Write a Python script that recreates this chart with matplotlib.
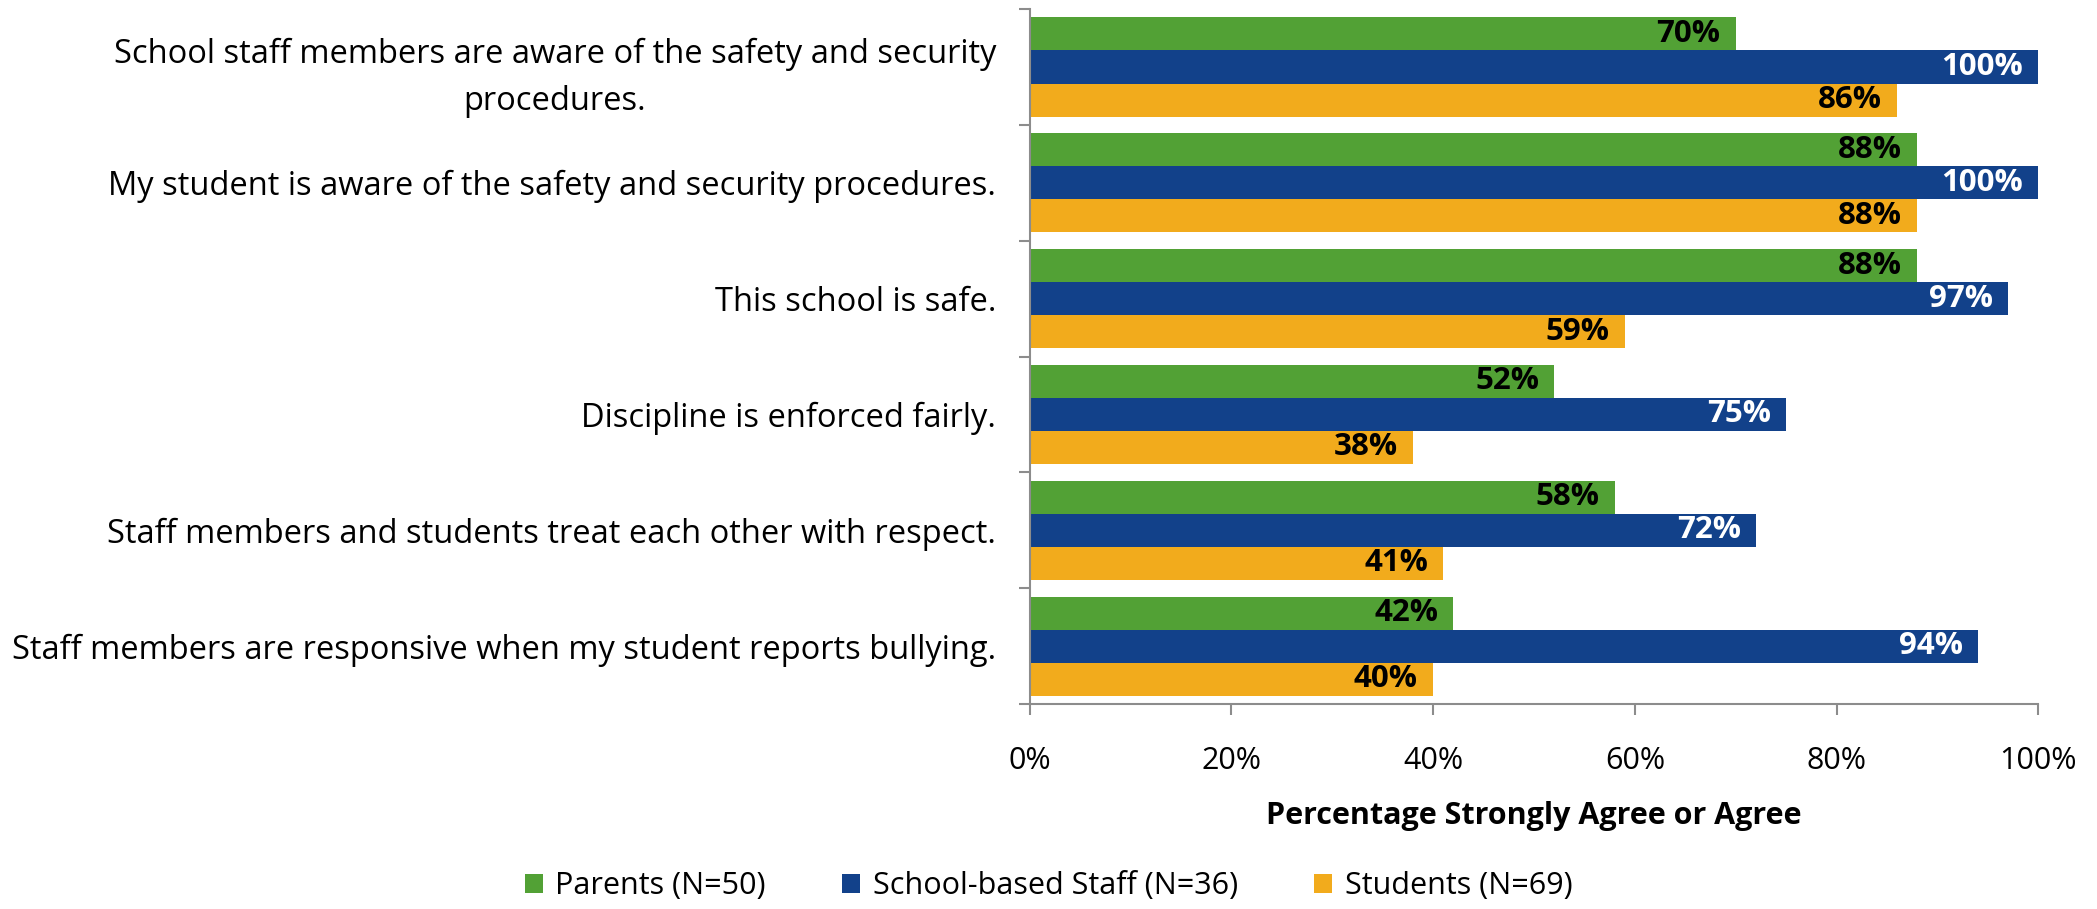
import numpy as np
import matplotlib.pyplot as plt
from matplotlib.ticker import FixedLocator, PercentFormatter

questions = [
    "School staff members are aware of the safety and security\nprocedures.",
    "My student is aware of the safety and security procedures.",
    "This school is safe.",
    "Discipline is enforced fairly.",
    "Staff members and students treat each other with respect.",
    "Staff members are responsive when my student reports bullying.",
]
parents = [70, 88, 88, 52, 58, 42]
staff = [100, 100, 97, 75, 72, 94]
students = [86, 88, 59, 38, 41, 40]
series_names = ["Parents (N=50)", "School-based Staff (N=36)", "Students (N=69)"]

colors = ["#52A135", "#12418A", "#F2AB1C"]
label_colors = ["black", "white", "black"]

plt.rcParams['font.family'] = ['Open Sans', 'DejaVu Sans']

fig = plt.figure(figsize=(20.97, 9.09), dpi=100)
ax = fig.add_axes([0.491, 0.2255, 0.481, 0.7645])

y = np.arange(len(questions))
h = 0.285
offsets = [-h, 0, h]
for vals, off, c, lc, name in zip([parents, staff, students], offsets, colors, label_colors, series_names):
    bars = ax.barh(y + off, vals, height=h, color=c, label=name)
    for b, v in zip(bars, vals):
        ax.text(b.get_width() - 1.5, b.get_y() + b.get_height() / 2, f"{v}%",
                ha='right', va='center', color=lc, fontsize=22.5, fontweight='bold')

ax.set_xlim(0, 100)
ax.set_ylim(len(questions) - 0.5, -0.5)
ax.xaxis.set_major_locator(FixedLocator([0, 20, 40, 60, 80, 100]))
ax.xaxis.set_major_formatter(PercentFormatter(decimals=0))

ax.set_yticks(np.arange(-0.5, len(questions), 1.0))
ax.set_yticklabels([])
ax.set_yticks(y, minor=True)
ax.set_yticklabels(questions, minor=True, fontsize=23.5, ha='right',
                   multialignment='center', linespacing=1.55)
ax.tick_params(axis='y', which='minor', length=0, pad=24)
ax.tick_params(axis='y', which='major', length=8, color='#8c8c8c', width=1.5)
ax.tick_params(axis='x', length=8, color='#8c8c8c', width=1.5, labelsize=22, pad=22)

for s in ['top', 'right']:
    ax.spines[s].set_visible(False)
for s in ['left', 'bottom']:
    ax.spines[s].set_color('#8c8c8c')
    ax.spines[s].set_linewidth(1.5)

ax.set_xlabel("Percentage Strongly Agree or Agree", fontsize=22, fontweight='bold', labelpad=18)

fig.legend(loc='lower center', bbox_to_anchor=(0.5, -0.005), ncol=3, frameon=False, borderaxespad=0,
           fontsize=22, handlelength=0.6, handleheight=0.6, handletextpad=0.4, columnspacing=2.5)

fig.savefig("out.png", dpi=100)
